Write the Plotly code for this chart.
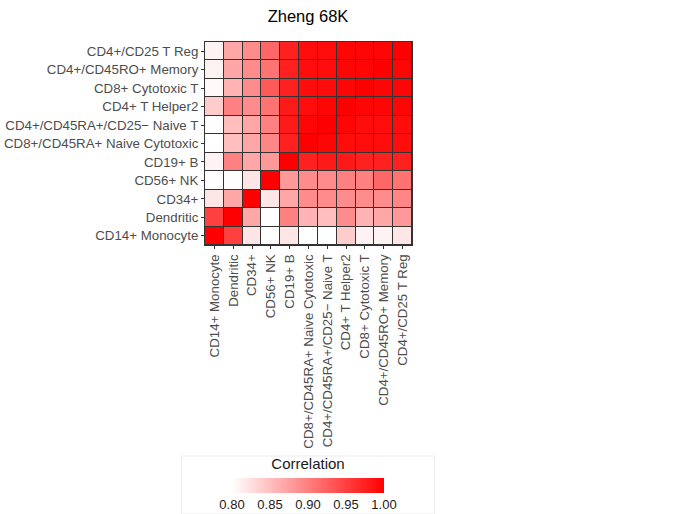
import plotly.graph_objects as go

cell_types = [
    "CD14+ Monocyte", "Dendritic", "CD34+", "CD56+ NK", "CD19+ B",
    "CD8+/CD45RA+ Naive Cytotoxic", "CD4+/CD45RA+/CD25\u2212 Naive T",
    "CD4+ T Helper2", "CD8+ Cytotoxic T", "CD4+/CD45RO+ Memory", "CD4+/CD25 T Reg",
]

# rows bottom -> top, columns left -> right (same order as cell_types)
row_cd14 = [1.00, 0.95, 0.82, 0.79, 0.82, 0.79, 0.79, 0.84, 0.81, 0.81, 0.82]
row_dend = [0.95, 1.00, 0.87, 0.78, 0.90, 0.86, 0.85, 0.89, 0.86, 0.87, 0.88]
row_cd34 = [0.82, 0.87, 1.00, 0.82, 0.87, 0.89, 0.89, 0.89, 0.89, 0.89, 0.895]
row_cd56 = [0.78, 0.78, 0.82, 1.00, 0.88, 0.89, 0.89, 0.90, 0.90, 0.92, 0.91]
row_cd19 = [0.81, 0.90, 0.87, 0.88, 1.00, 0.975, 0.98, 0.98, 0.975, 0.975, 0.975]
row_cd8n = [0.78, 0.85, 0.87, 0.895, 0.975, 1.00, 0.995, 0.99, 0.99, 0.99, 0.99]
row_cd4n = [0.78, 0.85, 0.87, 0.90, 0.98, 0.995, 1.00, 0.995, 0.99, 0.99, 0.99]
row_th2 = [0.84, 0.90, 0.89, 0.91, 0.98, 0.99, 0.995, 1.00, 0.995, 0.995, 0.995]
row_cd8c = [0.805, 0.86, 0.89, 0.93, 0.975, 0.99, 0.99, 0.995, 1.00, 0.995, 0.995]
row_mem = [0.81, 0.87, 0.89, 0.91, 0.975, 0.99, 0.99, 0.995, 0.995, 1.00, 0.995]
row_treg = [0.81, 0.87, 0.89, 0.92, 0.975, 0.99, 0.99, 0.995, 0.995, 0.995, 1.00]

z = [row_cd14, row_dend, row_cd34, row_cd56, row_cd19, row_cd8n,
     row_cd4n, row_th2, row_cd8c, row_mem, row_treg]

colorbar_ticks = [0.80, 0.85, 0.90, 0.95, 1.00]

fig = go.Figure(go.Heatmap(
    z=z, x=cell_types, y=cell_types,
    zmin=0.8, zmax=1.0,
    colorscale=[[0, "#ffffff"], [1, "#ff0000"]],
    xgap=1, ygap=1,
    hoverongaps=False,
    colorbar=dict(
        orientation="h",
        x=(308 - 205) / 207, xanchor="center",
        y=(245 - 456) / 203, yanchor="top",
        len=252, lenmode="pixels",
        thickness=15,
        outlinewidth=0,
        tickvals=colorbar_ticks,
        ticktext=[f"{v:.2f}" for v in colorbar_ticks],
        tickangle=0,
        tickfont=dict(size=13, color="#1a1a1a"),
        ticks="",
        title=dict(text="Correlation", side="top", font=dict(size=15, color="#1a1a1a")),
        bordercolor="#eeeeee", borderwidth=1,
        xpad=50, ypad=5,
    ),
))

fig.update_layout(
    width=681, height=514,
    margin=dict(l=205, r=269, t=42, b=269, autoexpand=False),
    paper_bgcolor="white",
    plot_bgcolor="#333333",
    font=dict(family="Liberation Sans, Arial, sans-serif", size=13.3, color="#4d4d4d"),
    title=dict(text="Zheng 68K", x=308 / 681, xanchor="center", y=0.968, yanchor="middle",
               font=dict(size=16.5, color="black")),
    xaxis=dict(tickangle=-90, ticks="outside", ticklen=3, tickcolor="#333333", automargin=False,
               showgrid=False, zeroline=False, showline=True, linecolor="#333333",
               mirror=True, linewidth=1, tickfont=dict(size=13.3, color="#4d4d4d")),
    yaxis=dict(ticks="outside", ticklen=3, tickcolor="#333333", automargin=False,
               showgrid=False, zeroline=False, showline=True, linecolor="#333333",
               mirror=True, linewidth=1, tickfont=dict(size=13.3, color="#4d4d4d")),
)

fig.write_html("out.html")
